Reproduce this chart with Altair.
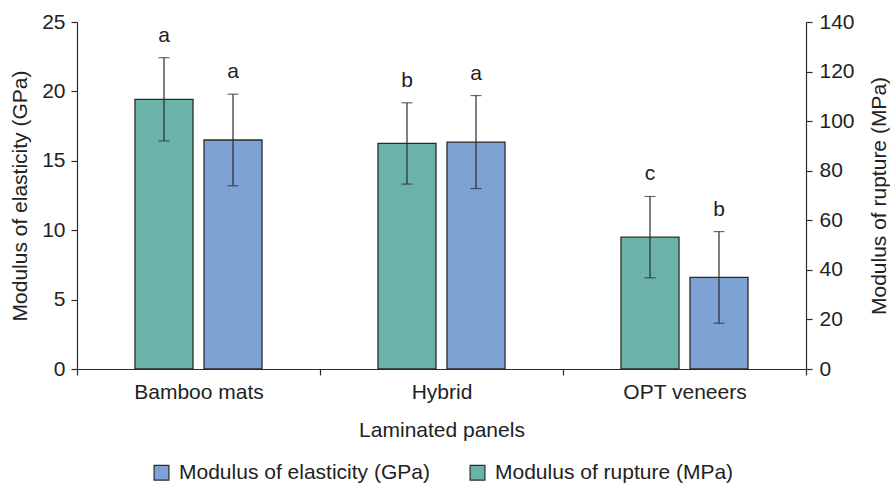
import altair as alt
import pandas as pd

panels = ["Bamboo mats", "Hybrid", "OPT veneers"]
MOE = "Modulus of elasticity (GPa)"
MOR = "Modulus of rupture (MPa)"

moe_vals = [16.5, 16.35, 6.6]
moe_err = [3.3, 3.35, 3.3]
moe_letters = ["a", "a", "b"]

mor_vals = [108.8, 91.0, 53.2]
mor_err = [16.8, 16.4, 16.4]
mor_letters = ["a", "b", "c"]

GREEN = "#6bb3a9"
BLUE = "#7fa2d5"
DARK = "#2b2b2b"
FONT = "Liberation Sans"
FS = 21

rows = []
for p, v, e, l in zip(panels, moe_vals, moe_err, moe_letters):
    rows.append(dict(panel=p, series=MOE, value=v, lo=v - e, hi=v + e, letter=l))
for p, v, e, l in zip(panels, mor_vals, mor_err, mor_letters):
    rows.append(dict(panel=p, series=MOR, value=v, lo=v - e, hi=v + e, letter=l))
df = pd.DataFrame(rows)

x_enc = alt.X(
    "panel:N",
    sort=panels,
    scale=alt.Scale(paddingInner=0, paddingOuter=0),
    axis=alt.Axis(
        title="Laminated panels",
        labelAngle=0,
        tickBand="extent",
        tickSize=6,
        labelPadding=6,
        titlePadding=17,
        labelFontSize=FS,
        titleFontSize=FS,
        titleFontWeight="normal",
    ),
)
xoff_enc = alt.XOffset(
    "series:N",
    scale=alt.Scale(domain=[MOR, MOE], paddingInner=0.159, paddingOuter=0.84),
)
color_enc = alt.Color(
    "series:N",
    scale=alt.Scale(domain=[MOE, MOR], range=[BLUE, GREEN]),
    legend=alt.Legend(
        title=None,
        orient="none",
        direction="horizontal",
        legendX=74,
        legendY=440,
        symbolType="square",
        symbolSize=220,
        symbolStrokeColor=DARK,
        symbolStrokeWidth=1.2,
        symbolOpacity=1,
        labelFontSize=FS,
        labelOffset=7,
        labelLimit=0,
        columnPadding=37,
        labelColor="#222",
    ),
)


def group(series, domain, axis):
    base = alt.Chart(df).transform_filter(alt.datum.series == series)
    sc = alt.Scale(domain=domain, nice=False)
    bar = base.mark_bar(stroke=DARK, strokeWidth=1.3, opacity=1).encode(
        x=x_enc,
        xOffset=xoff_enc,
        y=alt.Y("value:Q", scale=sc, axis=axis),
        color=color_enc,
    )
    rule = base.mark_rule(color=DARK, strokeWidth=1.2).encode(
        x=x_enc,
        xOffset=xoff_enc,
        y=alt.Y("lo:Q", scale=sc, axis=axis),
        y2="hi:Q",
    )
    cap_hi = base.mark_tick(color=DARK, size=11, thickness=1.2, orient="horizontal").encode(
        x=x_enc, xOffset=xoff_enc, y=alt.Y("hi:Q", scale=sc, axis=axis)
    )
    cap_lo = base.mark_tick(color=DARK, size=11, thickness=1.2, orient="horizontal").encode(
        x=x_enc, xOffset=xoff_enc, y=alt.Y("lo:Q", scale=sc, axis=axis)
    )
    text = base.mark_text(
        fontSize=FS, font=FONT, color="#222", baseline="alphabetic", dy=-16
    ).encode(
        x=x_enc,
        xOffset=xoff_enc,
        y=alt.Y("hi:Q", scale=sc, axis=axis),
        text="letter:N",
    )
    return alt.layer(bar, rule, cap_hi, cap_lo, text)


left_axis = alt.Axis(
    title=MOE,
    orient="left",
    values=[0, 5, 10, 15, 20, 25],
    tickSize=6,
    labelPadding=6,
    titlePadding=11,
    labelFontSize=FS,
    titleFontSize=FS,
    titleFontWeight="normal",
    grid=False,
)
right_axis = alt.Axis(
    title=MOR,
    orient="right",
    values=[0, 20, 40, 60, 80, 100, 120, 140],
    tickSize=6,
    labelPadding=7,
    titlePadding=35,
    titleAngle=270,
    labelFontSize=FS,
    titleFontSize=FS,
    titleFontWeight="normal",
    grid=False,
)

chart = (
    alt.layer(group(MOE, [0, 25], left_axis), group(MOR, [0, 140], right_axis))
    .resolve_scale(y="independent")
    .properties(
        width=729,
        height=347,
        autosize=alt.AutoSizeParams(type="none"),
        padding={"left": 77, "top": 22, "right": 84, "bottom": 115},
        background="white",
    )
    .configure_view(stroke=None)
    .configure_axis(
        domainColor=DARK,
        tickColor=DARK,
        labelColor="#222",
        titleColor="#222",
        labelFont=FONT,
        titleFont=FONT,
        titleFontWeight="normal",
        domainWidth=1.2,
        tickWidth=1.2,
    )
    .configure_legend(labelFont=FONT)
)

chart.save("out.html", embed_options={"renderer": "svg", "actions": False})
